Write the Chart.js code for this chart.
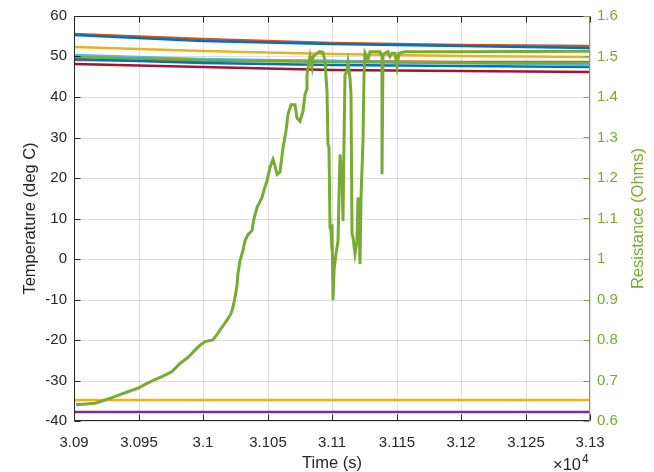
<!DOCTYPE html>
<html>
<head>
<meta charset="utf-8">
<script src="https://cdn.jsdelivr.net/npm/chart.js@4.4.1/dist/chart.umd.min.js"></script>
<style>
    html, body { margin: 0; padding: 0; background: #fff; }
</style>
</head>
<body>
<canvas id="tempChart" width="654" height="472"></canvas>
<script>
// time axis ticks (seconds) and their labels (shown in units of 10^4)
const xTickLabels = ["3.09", "3.095", "3.1", "3.105", "3.11", "3.115", "3.12", "3.125", "3.13"];
const yTickLabels = ["-40", "-30", "-20", "-10", "0", "10", "20", "30", "40", "50", "60"];
const y1TickLabels = ["0.6", "0.7", "0.8", "0.9", "1", "1.1", "1.2", "1.3", "1.4", "1.5", "1.6"];

// thermocouple readings, deg C
const tempTime = [30900, 31000, 31100, 31200, 31300];
const tempOrangeA = [55.6, 54.3, 53.4, 52.9, 52.6];
const tempBlueA = [55.2, 53.9, 53.0, 52.5, 52.1];
const tempYellowA = [52.3, 51.3, 50.6, 50.1, 49.8];
const tempLightBlue = [50.4, 49.4, 48.8, 48.3, 48.0];
const tempGreen = [49.8, 49.1, 48.7, 48.5, 48.3];
const tempBlueB = [49.5, 48.5, 48.0, 47.7, 47.5];
const tempOrangeB = [49.2, 48.9, 48.8, 48.7, 48.6];
const tempDarkRed = [48.1, 47.3, 46.7, 46.4, 46.2];
const tempYellowB = [-34.7, -34.8, -34.8, -34.9, -34.9];
const tempPurple = [-37.8, -37.8, -37.8, -37.8, -37.8];

// heater resistance, Ohms
const resTime = [30901.6, 30909.3, 30916.3, 30922.5, 30927.9, 30935.7, 30943.4, 30949.6, 30956.6, 30962.8,
    30969.0, 30976.0, 30982.2, 30988.4, 30993.8, 30997.7, 31001.6, 31004.7, 31007.8, 31011.6,
    31014.7, 31018.6, 31021.7, 31023.3, 31024.8, 31026.4, 31027.1, 31028.7, 31031.0, 31032.6,
    31034.9, 31038.0, 31039.5, 31041.9, 31045.7, 31047.3, 31049.6, 31051.9, 31054.3, 31055.8,
    31057.4, 31059.7, 31062.0, 31064.3, 31065.9, 31068.2, 31071.3, 31072.9, 31075.2, 31077.5,
    31079.1, 31080.6, 31081.0, 31082.9, 31084.2, 31085.5, 31088.1, 31090.7, 31093.3, 31094.6,
    31095.9, 31096.6, 31097.7, 31098.1, 31099.0, 31099.8, 31100.2, 31101.0, 31101.8, 31103.1,
    31104.9, 31106.2, 31107.5, 31108.3, 31109.3, 31110.1, 31111.4, 31112.6, 31114.0, 31114.7,
    31115.3, 31116.5, 31117.8, 31119.1, 31120.4, 31120.9, 31121.7, 31122.2, 31123.8, 31124.8,
    31125.8, 31128.1, 31129.5, 31137.2, 31138.5, 31139.1, 31139.9, 31143.6, 31145.0, 31146.3,
    31148.8, 31150.1, 31152.2, 31156.6, 31200, 31300];
const resValue = [0.640, 0.642, 0.644, 0.650, 0.656, 0.665, 0.674, 0.681, 0.693, 0.702,
    0.711, 0.722, 0.742, 0.757, 0.775, 0.787, 0.796, 0.798, 0.800, 0.817,
    0.832, 0.849, 0.865, 0.882, 0.905, 0.935, 0.965, 0.996, 1.021, 1.045,
    1.060, 1.070, 1.100, 1.127, 1.152, 1.170, 1.193, 1.226, 1.246, 1.230,
    1.209, 1.215, 1.275, 1.316, 1.357, 1.381, 1.381, 1.348, 1.340, 1.365,
    1.406, 1.420, 1.455, 1.500, 1.475, 1.500, 1.508, 1.512, 1.510, 1.488,
    1.414, 1.283, 1.275, 1.078, 1.070, 1.021, 1.086, 0.898, 0.972, 1.013,
    1.045, 1.258, 1.209, 1.094, 1.291, 1.455, 1.463, 1.484, 1.447, 1.406,
    1.062, 1.054, 1.013, 1.045, 1.152, 1.100, 0.988, 1.152, 1.291, 1.455,
    1.508, 1.492, 1.512, 1.512, 1.500, 1.209, 1.505, 1.512, 1.500, 1.508,
    1.508, 1.475, 1.508, 1.512, 1.512, 1.513];

const FONT = '"Liberation Sans", Arial, Helvetica, sans-serif';
const AXIS_GRAY = "#262626";
const GRID_GRAY = "rgba(38,38,38,0.15)";
const RES_GREEN = "#77AC30";

function toPoints(xs, ys) {
    return xs.map((x, i) => ({ x: x, y: ys[i] }));
}

function tempLine(values, color) {
    return {
        data: toPoints(tempTime, values),
        borderColor: color,
        borderWidth: 2.5,
        pointRadius: 0,
        yAxisID: "y",
        order: 1
    };
}

// MATLAB-like box: axis lines, inward ticks, exponent label, right y label
const matlabBox = {
    id: "matlabBox",
    afterDatasetsDraw(chart) {
        const { ctx, chartArea: a, scales } = chart;
        const L = Math.round(a.left) + 0.5, R = Math.round(a.right) - 0.5;
        const T = Math.round(a.top) + 0.5, B = Math.round(a.bottom) - 0.5;
        const tick = 6;
        ctx.save();
        ctx.lineWidth = 1;

        ctx.strokeStyle = AXIS_GRAY;
        ctx.beginPath();
        ctx.moveTo(L, T); ctx.lineTo(R, T);
        ctx.moveTo(L, B); ctx.lineTo(R, B);
        ctx.moveTo(L, T); ctx.lineTo(L, B);
        scales.x.ticks.forEach(t => {
            const px = Math.round(scales.x.getPixelForValue(t.value)) + 0.5;
            ctx.moveTo(px, B); ctx.lineTo(px, B - tick);
            ctx.moveTo(px, T); ctx.lineTo(px, T + tick);
        });
        scales.y.ticks.forEach(t => {
            const py = Math.round(scales.y.getPixelForValue(t.value)) + 0.5;
            ctx.moveTo(L, py); ctx.lineTo(L + tick, py);
        });
        ctx.stroke();

        ctx.strokeStyle = RES_GREEN;
        ctx.beginPath();
        ctx.moveTo(R, T); ctx.lineTo(R, B);
        scales.y1.ticks.forEach(t => {
            const py = Math.round(scales.y1.getPixelForValue(t.value)) + 0.5;
            ctx.moveTo(R, py); ctx.lineTo(R - tick, py);
        });
        ctx.stroke();

        // x10^4 exponent
        ctx.fillStyle = AXIS_GRAY;
        ctx.textBaseline = "alphabetic";
        ctx.textAlign = "left";
        ctx.font = "16.5px " + FONT;
        ctx.fillText("\u00d710", 553, 470);
        ctx.font = "12px " + FONT;
        ctx.fillText("4", 582, 463);

        // right axis title, reading bottom to top
        ctx.fillStyle = RES_GREEN;
        ctx.font = "16.5px " + FONT;
        ctx.textAlign = "center";
        ctx.textBaseline = "middle";
        ctx.translate(638, (a.top + a.bottom) / 2);
        ctx.rotate(-Math.PI / 2);
        ctx.fillText("Resistance (Ohms)", 0, 0);
        ctx.restore();
    }
};

new Chart(document.getElementById("tempChart").getContext("2d"), {
    type: "line",
    data: {
        datasets: [
            {
                data: toPoints(resTime, resValue),
                borderColor: RES_GREEN,
                borderWidth: 3,
                pointRadius: 0,
                yAxisID: "y1",
                order: 0
            },
            tempLine(tempBlueA, "#0072BD"),
            tempLine(tempOrangeA, "#D95319"),
            tempLine(tempYellowA, "#EDB120"),
            tempLine(tempPurple, "#7E2F8E"),
            tempLine(tempGreen, "#77AC30"),
            tempLine(tempLightBlue, "#4DBEEE"),
            tempLine(tempDarkRed, "#A2142F"),
            tempLine(tempBlueB, "#0072BD"),
            tempLine(tempOrangeB, "#D95319"),
            tempLine(tempYellowB, "#EDB120")
        ]
    },
    options: {
        responsive: false,
        animation: false,
        devicePixelRatio: 1,
        layout: { padding: { top: 14, left: 0, right: 0, bottom: 0 } },
        plugins: {
            legend: { display: false },
            tooltip: { enabled: false }
        },
        scales: {
            x: {
                type: "linear",
                min: 30900,
                max: 31300,
                alignToPixels: true,
                afterFit: s => { s.height = 51; },
                border: { display: false },
                grid: { color: GRID_GRAY, drawTicks: false },
                ticks: {
                    stepSize: 50,
                    autoSkip: false,
                    maxRotation: 0,
                    padding: 13,
                    color: AXIS_GRAY,
                    font: { family: FONT, size: 15 },
                    callback: (v, i) => xTickLabels[i]
                },
                title: {
                    display: true,
                    text: "Time (s)",
                    color: AXIS_GRAY,
                    font: { family: FONT, size: 16.5, lineHeight: 1 },
                    padding: { top: 0, bottom: 0 }
                }
            },
            y: {
                position: "left",
                min: -40,
                max: 60,
                alignToPixels: true,
                afterFit: s => { s.width = 74; },
                border: { display: false },
                grid: { color: GRID_GRAY, drawTicks: false },
                ticks: {
                    stepSize: 10,
                    padding: 7,
                    color: AXIS_GRAY,
                    font: { family: FONT, size: 15 },
                    callback: (v, i) => yTickLabels[i]
                },
                title: {
                    display: true,
                    text: "Temperature (deg C)",
                    color: AXIS_GRAY,
                    font: { family: FONT, size: 16.5, lineHeight: 1 },
                    padding: { top: 22, bottom: 0 }
                }
            },
            y1: {
                position: "right",
                min: 0.6,
                max: 1.6,
                afterFit: s => { s.width = 64; },
                border: { display: false },
                grid: { display: false, drawTicks: false },
                ticks: {
                    stepSize: 0.1,
                    padding: 7,
                    color: RES_GREEN,
                    font: { family: FONT, size: 15 },
                    callback: (v, i) => y1TickLabels[i]
                }
            }
        }
    },
    plugins: [matlabBox]
});
</script>
</body>
</html>
